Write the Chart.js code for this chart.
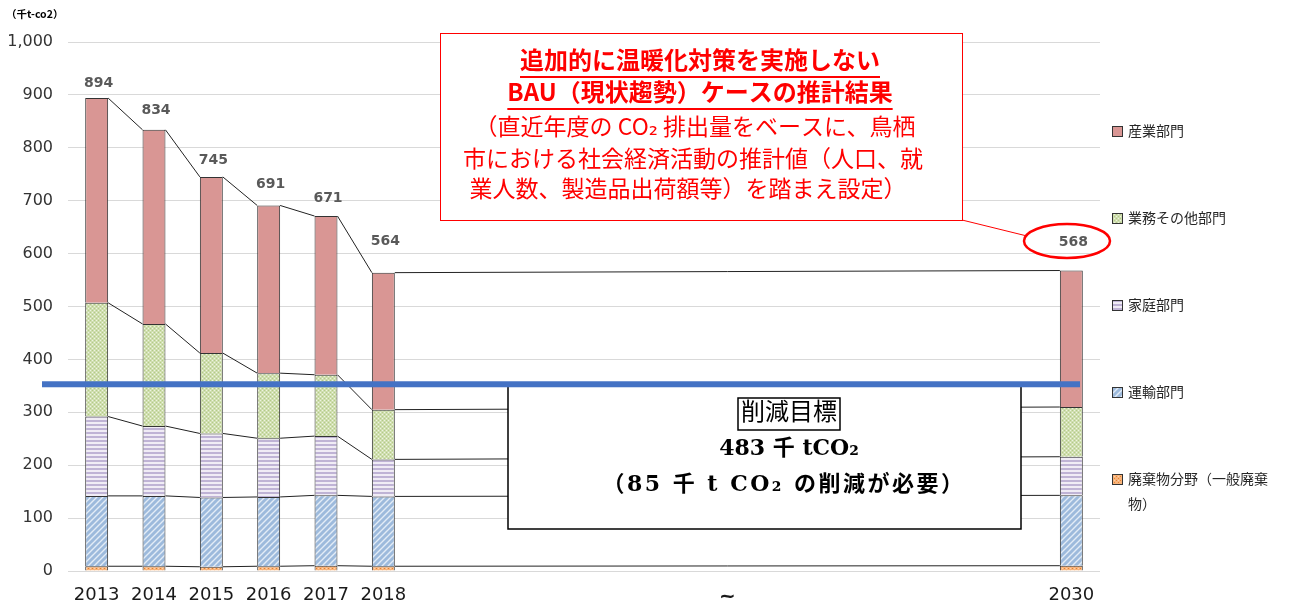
<!DOCTYPE html>
<html>
<head>
<meta charset="utf-8">
<script src="https://cdn.jsdelivr.net/npm/chart.js@4.4.0/dist/chart.umd.min.js"></script>
<style>
html, body { margin: 0; padding: 0; background: #fff; }
</style>
</head>
<body>
<canvas id="myChart" width="1290" height="603"></canvas>
<script>
'use strict';

// years on the x axis; 2019-2029 are left empty, '~' marks the gap
let years = ['2013', '2014', '2015', '2016', '2017', '2018',
  '', '', '', '', '', '~', '', '', '', '', '', '2030'];

// emissions by sector (千t-CO2)
let waste     = [9, 9, 8, 9, 10, 9, null, null, null, null, null, null, null, null, null, null, null, 10];
let transport = [133, 133, 131, 131, 133, 132, null, null, null, null, null, null, null, null, null, null, null, 133];
let household = [150, 132, 121, 111, 112, 70, null, null, null, null, null, null, null, null, null, null, null, 73];
let business  = [215, 193, 152, 123, 116, 94, null, null, null, null, null, null, null, null, null, null, null, 94];
let industry  = [387, 367, 333, 317, 300, 259, null, null, null, null, null, null, null, null, null, null, null, 258];

let sectorNames = ['廃棄物分野（一般廃棄物）', '運輸部門', '家庭部門', '業務その他部門', '産業部門'];
let yTicks = [0, 100, 200, 300, 400, 500, 600, 700, 800, 900, 1000];
let targetLine = 353;

// little canvas tiles used as bar fills
function tile(w, h, paint) {
  let c = document.createElement('canvas');
  c.width = w;
  c.height = h;
  let g = c.getContext('2d');
  paint(g);
  return document.createElement('canvas').getContext('2d').createPattern(c, 'repeat');
}

let fillIndustry = '#d99694';
let fillBusiness = tile(4, 4, function (g) {
  g.fillStyle = '#cfdeaf'; g.fillRect(0, 0, 4, 4);
  g.fillStyle = '#eef4e1'; g.fillRect(0, 0, 1, 1); g.fillRect(2, 2, 1, 1);
  g.fillStyle = '#b4ca88'; g.fillRect(2, 0, 1, 1); g.fillRect(0, 2, 1, 1);
});
let fillHousehold = tile(4, 4, function (g) {
  g.fillStyle = '#f0ecf5'; g.fillRect(0, 0, 4, 4);
  g.fillStyle = '#bfb3d5'; g.fillRect(0, 0, 4, 2);
});
let fillTransport = tile(6, 6, function (g) {
  g.fillStyle = '#9dbadc'; g.fillRect(0, 0, 6, 6);
  g.strokeStyle = '#e3ecf6'; g.lineWidth = 1.4;
  g.beginPath();
  g.moveTo(0, 6); g.lineTo(6, 0);
  g.moveTo(-1, 1); g.lineTo(1, -1);
  g.moveTo(5, 7); g.lineTo(7, 5);
  g.stroke();
});
let fillWaste = tile(4, 4, function (g) {
  g.fillStyle = '#f8b37a'; g.fillRect(0, 0, 4, 4);
  g.fillStyle = '#e5832f'; g.fillRect(0, 0, 1, 1); g.fillRect(2, 2, 1, 1);
  g.fillStyle = '#fcd3ae'; g.fillRect(2, 0, 1, 1);
});

let fills = [fillWaste, fillTransport, fillHousehold, fillBusiness, fillIndustry];
let series = [waste, transport, household, business, industry];

let datasets = [];
for (let i = 0; i < series.length; i++) {
  datasets.push({
    label: sectorNames[i],
    data: series[i],
    backgroundColor: fills[i],
    borderColor: '#333333',
    borderWidth: 1,
    barPercentage: 0.4,
    categoryPercentage: 1
  });
}

let cjk = '"Noto Sans CJK JP", "DejaVu Sans", sans-serif';
let serif = '"DejaVu Serif", "Liberation Serif", "Noto Sans CJK JP", serif';

function barIndexes() {
  let idx = [];
  for (let i = 0; i < years.length; i++) {
    if (industry[i] !== null) idx.push(i);
  }
  return idx;
}

// lines joining each stack boundary from one bar to the next
let seriesLines = {
  id: 'seriesLines',
  beforeDatasetsDraw(chart) {
    let ctx = chart.ctx;
    let idx = barIndexes();
    ctx.save();
    ctx.strokeStyle = '#222222';
    ctx.lineWidth = 1;
    for (let d = 0; d < chart.data.datasets.length; d++) {
      let bars = chart.getDatasetMeta(d).data;
      for (let k = 0; k < idx.length - 1; k++) {
        let a = bars[idx[k]];
        let b = bars[idx[k + 1]];
        ctx.beginPath();
        ctx.moveTo(a.x + a.width / 2, a.y);
        ctx.lineTo(b.x - b.width / 2, b.y);
        ctx.stroke();
      }
    }
    ctx.restore();
  }
};

// total above each bar
let totalLabels = {
  id: 'totalLabels',
  afterDatasetsDraw(chart) {
    let ctx = chart.ctx;
    let top = chart.getDatasetMeta(chart.data.datasets.length - 1).data;
    let lift = {0: 15, 1: 19, 2: 17, 3: 21, 4: 18, 5: 31, 17: 28};
    ctx.save();
    ctx.font = 'bold 14px "DejaVu Sans", sans-serif';
    ctx.fillStyle = '#595959';
    ctx.textAlign = 'center';
    ctx.textBaseline = 'middle';
    barIndexes().forEach(function (i) {
      let total = 0;
      series.forEach(function (s) { total += s[i]; });
      ctx.fillText(String(total), top[i].x + 2, top[i].y - lift[i]);
    });
    ctx.restore();
  }
};

function centerText(ctx, text, x, y) {
  ctx.textAlign = 'center';
  ctx.fillText(text, x, y);
  return ctx.measureText(text).width;
}

let notes = {
  id: 'notes',
  afterDraw(chart) {
    let ctx = chart.ctx;
    let ys = chart.scales.y;
    ctx.save();
    ctx.textBaseline = 'middle';

    // unit
    ctx.fillStyle = '#000';
    ctx.font = 'bold 10.5px ' + cjk;
    ctx.textAlign = 'left';
    ctx.fillText('（千t-co2）', 6, 14);

    // BAU estimate box
    ctx.fillStyle = '#ffffff';
    ctx.fillRect(440, 33, 522, 187);
    ctx.strokeStyle = '#ff0000';
    ctx.lineWidth = 1;
    ctx.strokeRect(440.5, 33.5, 522, 187);

    ctx.fillStyle = '#ff0000';
    ctx.strokeStyle = '#ff0000';
    ctx.font = 'bold 24px ' + cjk;
    let w1 = centerText(ctx, '追加的に温暖化対策を実施しない', 700, 60);
    let w2 = centerText(ctx, 'BAU（現状趨勢）ケースの推計結果', 700, 92);
    ctx.lineWidth = 2;
    ctx.beginPath();
    ctx.moveTo(700 - w1 / 2, 77); ctx.lineTo(700 + w1 / 2, 77);
    ctx.moveTo(700 - w2 / 2, 109); ctx.lineTo(700 + w2 / 2, 109);
    ctx.stroke();
    ctx.font = '23px ' + cjk;
    centerText(ctx, '（直近年度の CO₂ 排出量をベースに、鳥栖', 695, 126);
    centerText(ctx, '市における社会経済活動の推計値（人口、就', 693, 158);
    centerText(ctx, '業人数、製造品出荷額等）を踏まえ設定）', 688, 188);

    // pointer to the 2030 total
    ctx.lineWidth = 1;
    ctx.beginPath();
    ctx.moveTo(962, 220);
    ctx.lineTo(1027, 236);
    ctx.stroke();
    ctx.lineWidth = 2.5;
    ctx.beginPath();
    ctx.ellipse(1067, 241, 43, 17, 0, 0, Math.PI * 2);
    ctx.stroke();

    // reduction target box
    ctx.fillStyle = '#ffffff';
    ctx.fillRect(508, 385, 513, 144);
    ctx.strokeStyle = '#000000';
    ctx.lineWidth = 1.5;
    ctx.strokeRect(508, 385, 513, 144);
    ctx.fillStyle = '#000000';
    ctx.font = '24px ' + serif;
    let wt = centerText(ctx, '削減目標', 789, 414);
    ctx.lineWidth = 1.5;
    ctx.strokeRect(789 - wt / 2 - 3, 398, wt + 6, 32);
    ctx.font = 'bold 22px ' + serif;
    centerText(ctx, '483 千 tCO₂', 789, 449);
    ctx.letterSpacing = '2.5px';
    centerText(ctx, '（85 千 t CO₂ の削減が必要）', 784, 485);
    ctx.letterSpacing = '0px';

    // target level
    let ty = ys.getPixelForValue(targetLine);
    ctx.fillStyle = '#4472c4';
    ctx.fillRect(42, ty - 3, 1038, 6);

    // legend, top sector first
    ctx.font = '14px ' + cjk;
    ctx.textAlign = 'left';
    for (let i = 0; i < 5; i++) {
      let s = 4 - i;
      let cy = 131 + i * 87;
      ctx.fillStyle = fills[s];
      ctx.fillRect(1112, cy - 5, 10, 10);
      ctx.strokeStyle = '#333';
      ctx.lineWidth = 1;
      ctx.strokeRect(1112.5, cy - 4.5, 10, 10);
      ctx.fillStyle = '#262626';
      if (s === 0) {
        ctx.fillText('廃棄物分野（一般廃棄', 1128, cy);
        ctx.fillText('物）', 1128, cy + 25);
      } else {
        ctx.fillText(sectorNames[s], 1128, cy);
      }
    }
    ctx.restore();
  }
};

let ctx = document.getElementById('myChart').getContext('2d');
let myChart = new Chart(ctx, {
  type: 'bar',
  data: { labels: years, datasets: datasets },
  options: {
    responsive: false,
    animation: false,
    layout: { padding: { top: 42, right: 190, left: 0, bottom: 0 } },
    plugins: { legend: { display: false }, tooltip: { enabled: false } },
    scales: {
      x: {
        stacked: true,
        grid: { display: false },
        border: { display: false },
        afterFit: function (scale) { scale.height = 32; },
        ticks: {
          autoSkip: false,
          maxRotation: 0,
          padding: 6,
          color: '#1a1a1a',
          font: function (c) {
            if (years[c.index] === '~') return { size: 20, weight: 'bold', family: '"DejaVu Sans", sans-serif' };
            return { size: 18, family: '"DejaVu Sans", sans-serif' };
          }
        }
      },
      y: {
        stacked: true,
        min: 0,
        max: 1000,
        afterFit: function (scale) { scale.width = 68; },
        afterBuildTicks: function (scale) {
          scale.ticks = yTicks.map(function (v) { return { value: v }; });
        },
        grid: { color: '#d9d9d9', drawTicks: false },
        border: { display: false },
        ticks: {
          padding: 15,
          color: '#333333',
          font: { size: 16, family: '"DejaVu Sans", sans-serif' },
          callback: function (v) { return v.toLocaleString('en-US'); }
        }
      }
    }
  },
  plugins: [seriesLines, totalLabels, notes]
});
</script>
</body>
</html>
